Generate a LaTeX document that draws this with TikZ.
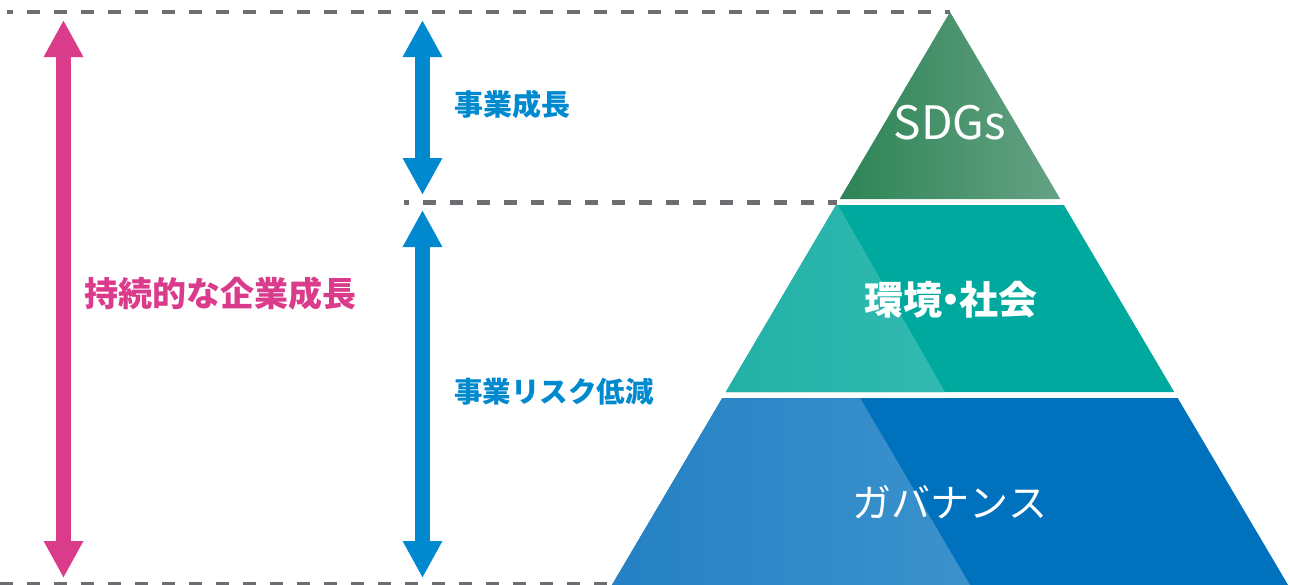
\documentclass[tikz,border=0pt]{standalone}
\usepackage{fontspec}
\usepackage{xcolor}
\usetikzlibrary{arrows.meta}
\setmainfont{Noto Sans CJK JP}
\definecolor{pinkarrow}{HTML}{DA3B8B}
\definecolor{bluearrow}{HTML}{0089CF}
\definecolor{guide}{HTML}{6D6E71}
\definecolor{sdgdark}{HTML}{2D8455}
\definecolor{sdglight}{HTML}{66A285}
\definecolor{envbase}{HTML}{00A99D}
\definecolor{envleft}{HTML}{22B1A6}
\definecolor{envright}{HTML}{31BAB1}
\definecolor{govbase}{HTML}{0071BC}
\definecolor{govleft}{HTML}{2581C4}
\definecolor{govright}{HTML}{3B92CC}
\tikzset{
	guideline/.style={guide, line width=4.7pt, dash pattern=on 13pt off 14pt},
	bigarrow/.style={#1, line width=15pt,
			{Triangle[length=37pt,width=37pt]}-{Triangle[length=37pt,width=37pt]}},
	sidelabel/.style={#1, anchor=west, inner sep=0pt},
	tierlabel/.style={white, inner sep=0pt}
}

\begin{document}
\begin{tikzpicture}[x=1pt,y=-1pt]
		\useasboundingbox (0,0) rectangle (1290,584);

		\coordinate (apex) at (950,12);
		\coordinate (topstart) at (7,12);
		\coordinate (midstart) at (404,202.5);
		\coordinate (midend) at (837,202.5);
		\coordinate (botstart) at (0,584.5);
		\coordinate (botend) at (611,584.5);

		\shade[left color=sdgdark, right color=sdglight]
		(apex) -- (1060.3,199) -- (839.7,199) -- cycle;
		\fill[envbase] (836.1,205) -- (1063.9,205) -- (1174.2,392) -- (725.8,392) -- cycle;
		\shade[left color=envleft, right color=envright]
		(836.1,205) -- (838,205) -- (945,392) -- (725.8,392) -- cycle;
		\fill[govbase] (722.3,398) -- (1177.7,398) -- (1291,590) -- (609,590) -- cycle;
		\shade[left color=govleft, right color=govright]
		(722.3,398) -- (860,398) -- (973,590) -- (609,590) -- cycle;

		\draw[guideline, dash phase=7pt] (topstart) -- (apex);
		\draw[guideline, dash phase=8pt] (midstart) -- (midend);
		\draw[guideline] (botstart) -- (botend);

		\foreach \name/\x/\ya/\yb/\col in {growth/63.5/20/578/pinkarrow,
				business/422.5/20/195/bluearrow, risk/422.5/210/578/bluearrow}
			{
				\coordinate (\name top) at (\x,\ya);
				\coordinate (\name bot) at (\x,\yb);
				\draw[bigarrow=\col] (\name top) -- (\name bot);
			}

		\node[sidelabel=pinkarrow, font=\bfseries\fontsize{34}{34}\selectfont] (growthlabel) at (84,294) {持続的な企業成長};
		\node[sidelabel=bluearrow, font=\bfseries\fontsize{29}{29}\selectfont] (businesslabel) at (454,104) {事業成長};
		\node[sidelabel=bluearrow, font=\bfseries\fontsize{28.5}{28.5}\selectfont] (risklabel) at (454,392) {事業リスク低減};

		\node[tierlabel, font=\fontsize{46}{46}\selectfont] (sdgs) at (950,123) {SDGs};
		\node[tierlabel, font=\bfseries\fontsize{39}{39}\selectfont] (env) at (951,300)
		{環境\kern-.29em・\kern-.29em社会};
		\node[tierlabel, font=\fontsize{39}{39}\selectfont] (gov) at (950,502) {ガバナンス};

	\end{tikzpicture}
\end{document}
